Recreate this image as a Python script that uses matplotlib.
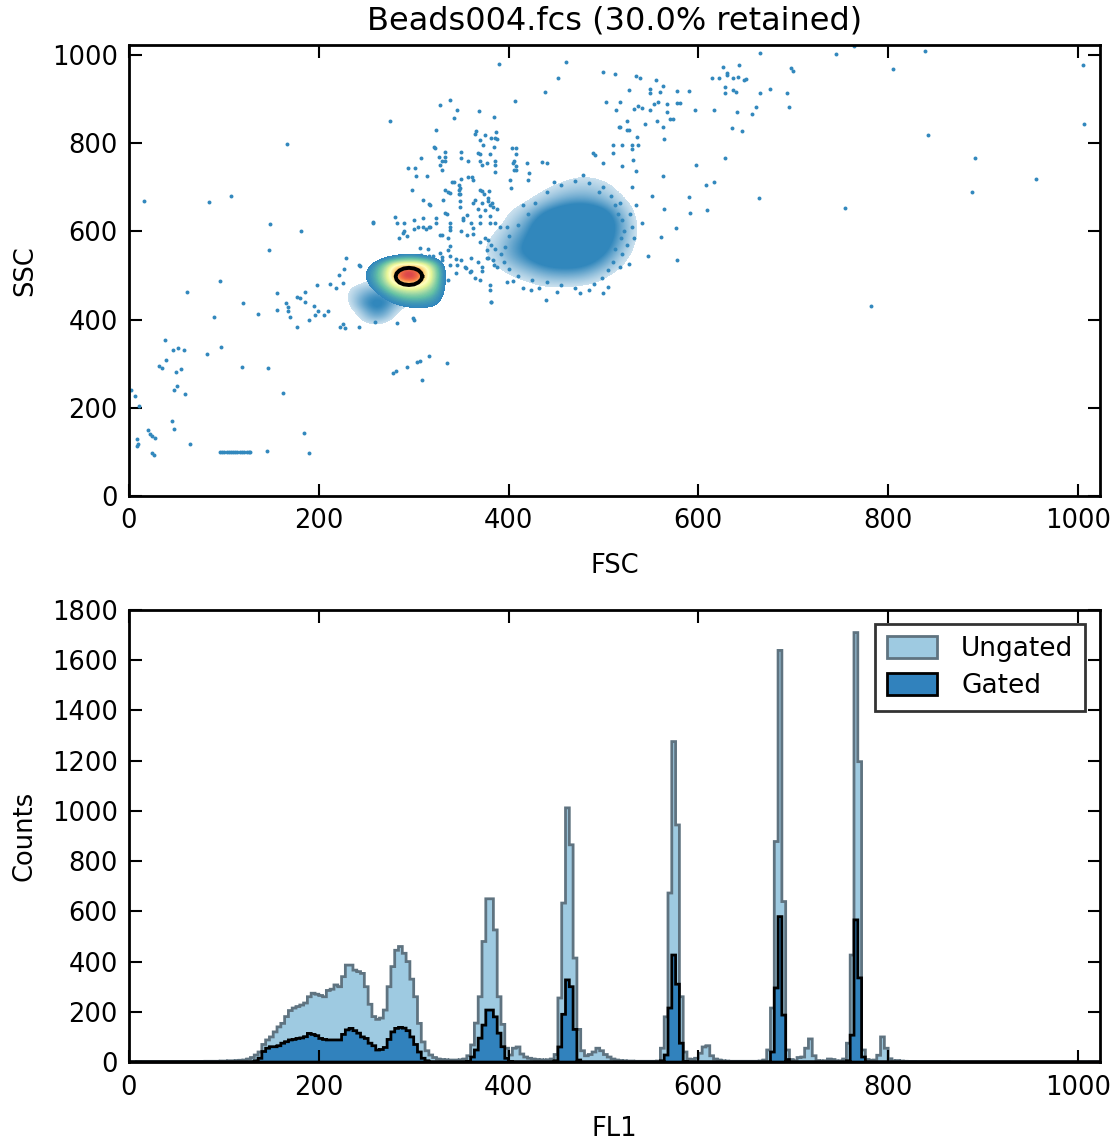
import numpy as np
import matplotlib.pyplot as plt
from matplotlib.colors import LinearSegmentedColormap, ListedColormap

# ---------------------------------------------------------------------------
# FL1 histogram, 256 channels of width 4 (0 - 1024)
# ---------------------------------------------------------------------------
bin_width = 4
ungated_counts = [
    0, 0, 1, 1, 1, 1, 1, 1, 1, 1, 1, 1, 1, 1, 2, 2,
    2, 2, 2, 2, 3, 3, 3, 3, 4, 4, 5, 5, 6, 7, 8, 12,
    18, 28, 40, 70, 88, 100, 120, 140, 154, 181, 205, 215, 221, 227, 235, 260,
    274, 270, 265, 260, 285, 290, 307, 300, 340, 386, 386, 366, 360, 353, 300, 230,
    181, 170, 175, 207, 300, 380, 445, 460, 433, 400, 330, 260, 154, 80, 45, 28,
    18, 12, 10, 9, 8, 8, 8, 9, 12, 25, 68, 155, 260, 480, 650, 650,
    526, 260, 150, 55, 28, 55, 60, 32, 20, 15, 12, 10, 9, 8, 9, 12,
    30, 255, 633, 1012, 865, 414, 130, 45, 25, 30, 40, 55, 45, 30, 20, 12,
    8, 6, 5, 4, 4, 3, 3, 3, 3, 3, 3, 4, 55, 180, 673, 1276,
    944, 260, 40, 12, 10, 15, 35, 60, 65, 25, 12, 8, 5, 4, 3, 3,
    3, 3, 3, 3, 3, 3, 4, 8, 48, 215, 878, 1639, 639, 48, 10, 5,
    18, 20, 55, 92, 25, 6, 4, 5, 12, 10, 4, 5, 12, 75, 426, 1710,
    1196, 48, 10, 6, 8, 27, 100, 55, 13, 5, 6, 4, 3, 2, 2, 1,
    1, 1, 1, 1, 1, 1, 1, 1,
]
gated_counts = [
    0, 0, 0, 0, 0, 0, 0, 0, 0, 0, 0, 0, 0, 0, 0, 0,
    0, 0, 0, 0, 0, 0, 0, 0, 0, 0, 0, 0, 0, 0, 0, 0,
    0, 5, 15, 42, 55, 61, 61, 65, 75, 81, 88, 90, 94, 96, 101, 114,
    110, 105, 94, 90, 88, 88, 88, 88, 110, 128, 134, 125, 115, 100, 94, 75,
    65, 48, 50, 58, 90, 120, 134, 138, 135, 125, 100, 70, 40, 15, 5, 0,
    0, 0, 0, 0, 0, 0, 0, 0, 0, 2, 20, 48, 95, 147, 207, 207,
    180, 115, 61, 15, 2, 0, 0, 0, 0, 0, 0, 0, 0, 0, 0, 0,
    5, 60, 190, 327, 300, 130, 8, 0, 0, 0, 0, 0, 0, 0, 0, 0,
    0, 0, 0, 0, 0, 0, 0, 0, 0, 0, 0, 0, 5, 28, 215, 426,
    310, 75, 2, 0, 0, 0, 0, 0, 0, 0, 0, 0, 0, 0, 0, 0,
    0, 0, 0, 0, 0, 0, 0, 0, 0, 40, 295, 579, 187, 10, 0, 0,
    0, 0, 0, 0, 0, 0, 0, 0, 0, 0, 0, 0, 0, 5, 107, 566,
    335, 20,
]
n_bins = 256
ungated_counts = np.array(ungated_counts + [0] * (n_bins - len(ungated_counts)))
gated_counts = np.array(gated_counts + [0] * (n_bins - len(gated_counts)))

# ---------------------------------------------------------------------------
# FSC / SSC events
# ---------------------------------------------------------------------------
# sparse events, (FSC, SSC)
events_low = [
    (16, 669), (84, 666), (108, 681), (148, 559), (149, 616), (181, 602),
    (229, 539), (243, 522), (227, 515), (221, 501), (242, 524), (198, 478),
    (96, 488), (61, 463), (120, 437), (90, 405), (136, 413), (156, 460),
    (165, 437), (168, 420), (170, 405), (180, 450), (185, 440), (195, 430),
    (205, 410), (210, 420), (177, 384), (222, 383), (226, 390), (212, 481),
    (218, 472), (225, 483), (185, 463), (177, 451), (168, 429), (156, 422),
    (196, 410), (190, 400), (199, 420), (228, 380), (242, 384), (166, 798),
    (38, 354), (46, 330), (52, 335), (58, 332), (32, 295), (35, 290),
    (39, 308), (50, 282), (55, 288), (82, 321), (97, 338), (119, 293),
    (146, 291), (162, 233), (51, 249), (47, 240), (59, 232), (6, 227),
    (2, 240), (11, 203), (45, 171), (47, 151), (20, 150), (22, 140),
    (27, 132), (24, 135), (8, 129), (8, 114), (10, 118), (24, 97),
    (26, 93), (64, 119), (184, 142), (190, 97), (145, 103),
    (96, 99), (98, 100), (100, 99), (103, 100), (105, 99), (107, 99),
    (110, 100), (112, 99), (114, 99), (117, 100), (119, 99), (121, 100),
    (124, 99), (126, 99), (128, 100),
]
events_bridge = [
    (278, 280), (281, 283), (293, 293), (303, 305), (307, 307), (316, 317),
    (309, 263), (335, 301), (382, 441), (282, 393), (300, 399), (259, 395),
    (299, 403), (336, 559), (338, 524), (346, 524), (336, 490), (326, 517),
    (328, 592), (316, 610), (289, 596), (300, 605), (310, 610), (257, 621),
    (282, 619), (308, 546), (316, 544), (323, 531), (330, 543), (338, 619),
    (280, 633), (257, 620), (290, 620), (290, 600), (300, 625), (305, 610),
    (310, 630), (313, 605), (285, 585), (293, 590), (307, 562), (315, 560),
    (320, 545), (325, 530), (323, 630), (323, 620), (335, 640), (338, 603),
    (336, 585), (338, 545), (345, 538), (350, 535), (342, 713), (348, 705),
    (348, 695), (348, 685), (349, 670), (352, 630), (356, 637), (350, 600),
    (362, 595), (360, 540), (368, 530), (372, 520), (378, 540), (385, 525),
    (355, 518), (345, 505), (360, 510), (372, 510), (363, 665), (372, 665),
    (378, 668), (383, 665), (360, 620), (370, 620), (380, 620), (375, 585),
    (331, 671), (316, 662), (336, 690), (298, 695), (372, 692), (379, 692),
    (350, 718), (361, 724), (302, 725), (314, 725), (333, 641), (338, 611),
    (352, 625), (362, 607), (317, 610), (330, 591), (356, 592), (378, 580),
    (382, 569), (370, 575), (377, 558), (338, 567), (354, 519), (328, 551),
    (330, 535), (377, 540), (384, 535), (359, 508), (370, 490), (380, 478),
    (365, 495), (380, 467), (382, 440), (398, 485), (415, 472), (424, 467),
    (439, 444), (451, 462), (475, 460), (500, 460), (517, 520), (527, 526),
    (547, 544), (578, 536), (576, 607), (561, 587), (541, 620), (591, 641),
    (609, 648), (564, 652), (534, 659), (551, 681), (590, 679), (608, 705),
    (617, 712), (530, 701), (563, 726), (534, 738), (598, 751), (628, 767),
    (520, 748), (531, 762), (499, 756), (491, 774), (510, 779), (530, 786),
    (510, 796), (520, 796), (530, 796), (564, 810), (535, 815), (489, 777),
]
# fringe of the large population
events_fringe = [
    (515, 640), (520, 625), (522, 600), (518, 585), (525, 570), (512, 560),
    (520, 548), (510, 530), (505, 512), (498, 495), (490, 480), (470, 472),
    (455, 478), (440, 485), (425, 490), (410, 500), (400, 515), (395, 530),
    (392, 548), (396, 565), (400, 590), (410, 615), (420, 640), (428, 665),
    (440, 690), (455, 705), (470, 715), (485, 710), (500, 700), (508, 680),
    (512, 660), (530, 610), (528, 640), (505, 475), (485, 468), (432, 472),
    (405, 488), (388, 520), (386, 560), (398, 610), (415, 660), (448, 712),
    (478, 728), (495, 690), (517, 665), (532, 585),
]
events_upper = [
    (390, 980), (461, 985), (452, 947), (438, 917), (407, 896), (338, 898),
    (328, 887), (346, 875), (369, 873), (343, 858), (385, 859), (275, 850),
    (323, 830), (366, 828), (375, 819), (387, 826), (386, 811), (370, 807),
    (373, 796), (322, 790), (385, 792), (408, 789), (327, 770), (330, 760),
    (328, 750), (330, 740), (350, 780), (350, 767), (357, 760), (370, 775),
    (370, 760), (372, 750), (308, 767), (294, 745), (301, 745), (377, 756),
    (386, 760), (386, 750), (386, 735), (405, 755), (408, 748), (406, 740),
    (440, 755), (435, 758), (365, 820), (382, 812), (388, 810), (321, 792),
    (333, 780), (333, 770), (333, 760), (368, 778), (380, 775), (404, 790),
    (408, 775), (406, 760), (419, 755), (422, 732), (408, 739), (420, 717),
    (402, 717), (403, 698), (357, 723), (362, 716), (340, 712), (349, 698),
    (349, 685), (349, 656), (370, 694), (374, 685), (378, 676), (380, 660),
    (384, 655), (388, 650), (333, 694), (338, 687), (310, 671), (317, 660),
    (365, 671), (368, 650), (370, 634), (375, 648), (380, 635), (386, 620),
    (391, 611), (500, 961), (512, 958), (534, 952), (539, 948), (555, 943),
    (563, 930), (549, 922), (549, 913), (560, 916), (527, 920), (578, 918),
    (590, 919), (614, 949), (622, 949), (626, 972), (630, 960), (630, 955),
    (637, 948), (642, 950), (643, 977), (648, 943), (650, 945), (628, 928),
    (628, 913), (637, 920), (640, 916), (665, 913), (675, 922), (693, 913),
    (698, 970), (700, 965), (661, 883), (656, 866), (695, 883), (641, 871),
    (617, 875), (646, 828), (635, 834), (596, 875), (503, 893), (517, 893),
    (513, 875), (532, 878), (536, 885), (541, 880), (549, 875), (553, 890),
    (557, 893), (567, 890), (567, 871), (578, 892), (581, 891), (525, 851),
    (527, 831), (516, 836), (544, 843), (556, 850), (563, 838), (570, 855),
    (573, 855), (517, 837), (525, 830), (536, 796),
]
events_far = [
    (665, 1005), (745, 1002), (764, 1021), (839, 1010), (1005, 977), (805, 968),
    (755, 653), (842, 818), (892, 767), (888, 690), (956, 718), (1006, 844),
    (782, 431), (664, 676),
]

# event density of the large non-gated population, rows from SSC 740 down to 460
cluster_fsc = np.arange(380, 541, 20)
cluster_ssc = np.arange(740, 459, -20)
cluster_density = np.array([
    [0.00, 0.00, 0.00, 0.00, 0.00, 0.05, 0.00, 0.00, 0.00],
    [0.00, 0.00, 0.00, 0.00, 0.10, 0.15, 0.10, 0.00, 0.00],
    [0.00, 0.00, 0.00, 0.10, 0.20, 0.25, 0.20, 0.05, 0.00],
    [0.00, 0.00, 0.05, 0.20, 0.35, 0.40, 0.30, 0.10, 0.00],
    [0.00, 0.05, 0.15, 0.40, 0.60, 0.65, 0.50, 0.20, 0.00],
    [0.00, 0.10, 0.30, 0.70, 0.90, 0.95, 0.80, 0.30, 0.00],
    [0.00, 0.15, 0.45, 0.90, 1.00, 1.00, 0.90, 0.40, 0.00],
    [0.05, 0.25, 0.55, 1.00, 1.00, 1.00, 0.90, 0.40, 0.00],
    [0.08, 0.35, 0.65, 1.00, 1.00, 1.00, 0.85, 0.35, 0.00],
    [0.10, 0.40, 0.70, 0.95, 1.00, 1.00, 0.75, 0.25, 0.00],
    [0.08, 0.35, 0.60, 0.85, 0.90, 0.85, 0.55, 0.15, 0.00],
    [0.05, 0.20, 0.40, 0.60, 0.65, 0.60, 0.35, 0.08, 0.00],
    [0.00, 0.10, 0.20, 0.35, 0.40, 0.35, 0.15, 0.00, 0.00],
    [0.00, 0.00, 0.08, 0.15, 0.15, 0.12, 0.05, 0.00, 0.00],
    [0.00, 0.00, 0.00, 0.03, 0.03, 0.00, 0.00, 0.00, 0.00],
])

# low-density tail to the lower left of the gated population, SSC 490 down to 380
tail_fsc = np.arange(220, 301, 10)
tail_ssc = np.arange(490, 379, -10)
tail_density = np.array([
    [0.00, 0.00, 0.05, 0.10, 0.12, 0.10, 0.05, 0.00, 0.00],
    [0.00, 0.05, 0.10, 0.18, 0.20, 0.18, 0.10, 0.05, 0.00],
    [0.00, 0.08, 0.20, 0.30, 0.35, 0.30, 0.20, 0.10, 0.00],
    [0.00, 0.10, 0.25, 0.40, 0.50, 0.45, 0.30, 0.15, 0.00],
    [0.00, 0.10, 0.30, 0.50, 0.60, 0.55, 0.40, 0.20, 0.05],
    [0.00, 0.08, 0.30, 0.55, 0.65, 0.60, 0.40, 0.20, 0.05],
    [0.00, 0.05, 0.25, 0.50, 0.65, 0.55, 0.30, 0.12, 0.00],
    [0.00, 0.03, 0.15, 0.40, 0.55, 0.45, 0.20, 0.05, 0.00],
    [0.00, 0.00, 0.10, 0.30, 0.45, 0.35, 0.12, 0.00, 0.00],
    [0.00, 0.00, 0.05, 0.20, 0.30, 0.20, 0.05, 0.00, 0.00],
    [0.00, 0.00, 0.02, 0.08, 0.12, 0.08, 0.00, 0.00, 0.00],
    [0.00, 0.00, 0.00, 0.02, 0.03, 0.02, 0.00, 0.00, 0.00],
])

# normalised density of the gated population, SSC 550 down to 410
gated_fsc = np.arange(240, 341, 10)
gated_ssc = np.arange(550, 409, -10)
gated_density = np.array([
    [0, 0, 0, 0, 0, 0.02, 0.02, 0, 0, 0, 0],
    [0, 0, 0.01, 0.04, 0.09, 0.13, 0.13, 0.09, 0.04, 0, 0],
    [0, 0.01, 0.05, 0.14, 0.27, 0.34, 0.34, 0.28, 0.16, 0.02, 0],
    [0, 0.03, 0.11, 0.28, 0.60, 0.72, 0.72, 0.60, 0.30, 0.05, 0],
    [0, 0.05, 0.15, 0.36, 0.76, 0.95, 0.96, 0.75, 0.38, 0.07, 0],
    [0, 0.06, 0.17, 0.38, 0.80, 1.00, 1.00, 0.77, 0.40, 0.07, 0],
    [0, 0.05, 0.16, 0.36, 0.75, 0.95, 0.96, 0.74, 0.38, 0.07, 0],
    [0, 0.04, 0.13, 0.30, 0.58, 0.72, 0.74, 0.60, 0.34, 0.07, 0],
    [0, 0.02, 0.09, 0.22, 0.40, 0.50, 0.52, 0.44, 0.28, 0.07, 0],
    [0, 0.01, 0.05, 0.14, 0.26, 0.34, 0.36, 0.32, 0.22, 0.06, 0],
    [0, 0, 0.02, 0.08, 0.16, 0.22, 0.24, 0.22, 0.16, 0.05, 0],
    [0, 0, 0, 0.04, 0.09, 0.13, 0.15, 0.14, 0.11, 0.04, 0],
    [0, 0, 0, 0.01, 0.04, 0.07, 0.08, 0.08, 0.07, 0.02, 0],
    [0, 0, 0, 0, 0.01, 0.03, 0.04, 0.04, 0.03, 0.01, 0],
    [0, 0, 0, 0, 0, 0, 0, 0, 0, 0, 0],
])

# gate contour (FSC, SSC)
gate_contour = [
    (309, 498), (308, 505.5), (305, 512), (300.5, 516), (295, 517.5),
    (289.5, 516), (285, 511.5), (282, 505), (281, 498), (282, 490.5),
    (285, 484), (289.5, 480), (295, 478.5), (300.5, 480), (305, 484.5),
    (308, 491), (309, 498),
]

title = 'Beads004.fcs (30.0% retained)'

# ---------------------------------------------------------------------------
plt.rcParams.update({
    'font.family': 'DejaVu Sans',
    'font.size': 18.5,
    'axes.linewidth': 2.0,
    'xtick.direction': 'in',
    'ytick.direction': 'in',
    'xtick.top': True,
    'ytick.right': True,
    'xtick.major.size': 9,
    'ytick.major.size': 9,
    'xtick.major.width': 1.5,
    'ytick.major.width': 1.5,
    'xtick.major.pad': 9,
    'ytick.major.pad': 8,
})

dot_blue = '#3288bd'

fig = plt.figure(figsize=(11.12, 11.41), dpi=100)
ax1 = fig.add_axes([0.116, 0.5653, 0.873, 0.3953])
ax2 = fig.add_axes([0.116, 0.0692, 0.873, 0.3962])


def grid_extent(xs, ys):
    dx = abs(xs[1] - xs[0]) / 2
    dy = abs(ys[1] - ys[0]) / 2
    return [xs[0] - dx, xs[-1] + dx, ys[-1] - dy, ys[0] + dy]


# density shading of the ungated populations
fade = LinearSegmentedColormap.from_list(
    'fade', [(0.196, 0.533, 0.741, 0.25), (0.196, 0.533, 0.741, 1.0)])
fade.set_under((1, 1, 1, 0))
for dens, xs, ys in [(cluster_density, cluster_fsc, cluster_ssc),
                     (tail_density, tail_fsc, tail_ssc)]:
    ax1.imshow(dens, cmap=fade, vmin=0.12, vmax=0.6,
               extent=grid_extent(xs, ys), origin='upper',
               interpolation='bicubic', interpolation_stage='data',
               aspect='auto', zorder=1)

# sparse events
events = np.array(events_low + events_bridge + events_fringe + events_upper
                  + events_far)
ax1.scatter(events[:, 0], events[:, 1], s=8, c=dot_blue, linewidths=0,
            zorder=2)

# gated population, coloured by density
ramp = np.linspace(0, 1, 256) ** 1.15
spectral = ListedColormap(plt.get_cmap('Spectral_r')(0.1 + 0.8 * ramp))
spectral.set_under((1, 1, 1, 0))
ax1.imshow(gated_density, cmap=spectral, vmin=0.06, vmax=1.0,
           extent=grid_extent(gated_fsc, gated_ssc), origin='upper',
           interpolation='bicubic', interpolation_stage='data',
           aspect='auto', zorder=3)

gate = np.array(gate_contour)
ax1.plot(gate[:, 0], gate[:, 1], color='k', lw=2.8, zorder=4)

ax1.set_xlim(0, 1023)
ax1.set_ylim(0, 1023)
ax1.set_xticks(np.arange(0, 1001, 200))
ax1.set_yticks(np.arange(0, 1001, 200))
ax1.set_xlabel('FSC', labelpad=13)
ax1.set_ylabel('SSC', labelpad=10)
ax1.set_title(title, fontsize=23, pad=11)

# histograms
edges = np.arange(n_bins + 1) * bin_width
centers = edges[:-1] + bin_width / 2
ax2.hist(centers, bins=edges, weights=ungated_counts, histtype='stepfilled',
         facecolor='#9ecae1', edgecolor='#5f7380', linewidth=2.0,
         label='Ungated')
ax2.hist(centers, bins=edges, weights=gated_counts, histtype='stepfilled',
         facecolor='#3182bd', edgecolor='k', linewidth=2.0, label='Gated')

ax2.set_xlim(0, 1023)
ax2.set_ylim(0, 1800)
ax2.set_xticks(np.arange(0, 1001, 200))
ax2.set_yticks(np.arange(0, 1801, 200))
ax2.set_xlabel('FL1', labelpad=11)
ax2.set_ylabel('Counts', labelpad=10)
leg = ax2.legend(loc='upper right', fancybox=False, fontsize=19,
                 borderaxespad=0.55, handlelength=1.9, handleheight=0.9,
                 handletextpad=0.9, borderpad=0.45, labelspacing=0.4)
leg.get_frame().set_edgecolor('k')
leg.get_frame().set_linewidth(2.0)

fig.savefig('out.png', dpi=100)
